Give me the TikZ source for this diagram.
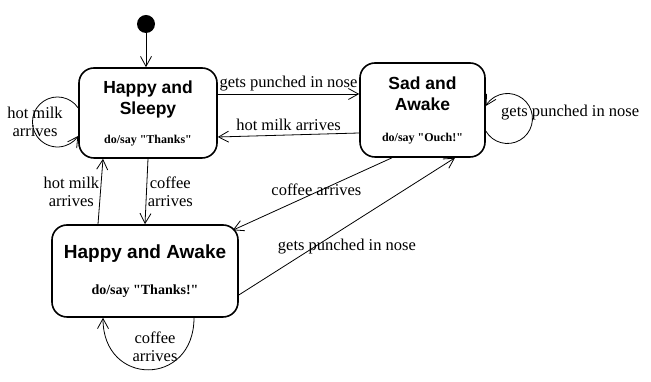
\documentclass[tikz,border=0pt]{standalone}
\usepackage{fontspec}
\setmainfont{Liberation Serif}
\newfontfamily\titlefont{Liberation Sans}
\usetikzlibrary{arrows.meta}

\tikzset{
  initial/.style={circle, fill=black, minimum size=18pt, inner sep=0pt},
  state/.style={draw, line width=1.6pt, rounded corners=15pt, align=center, inner sep=0pt},
  trans/.style={line width=0.8pt, -{Straight Barb[length=10pt,width=11pt]}},
  lbl/.style={font=\fontsize{16.5}{18}\selectfont, align=center, inner sep=1pt},
}
\newcommand{\stitle}[1]{{\titlefont\bfseries #1}}
\newcommand{\doline}[1]{{\bfseries #1}}
\newcommand{\qt}{\textquotedbl}

\begin{document}
\begin{tikzpicture}[x=1pt,y=1pt]
    \useasboundingbox (0,0) rectangle (651,382);

    % 状态
    \node[initial] (init) at (146,358) {};
    \node[state, minimum width=138pt, minimum height=90pt,
          font=\fontsize{17.5}{21}\selectfont] (hs) at (148,269)
        {\stitle{Happy and}\\\stitle{Sleepy}\\[8pt]{\fontsize{12}{14}\selectfont\doline{do/say \qt Thanks\qt}}};
    \node[state, minimum width=125pt, minimum height=94pt,
          font=\fontsize{17.5}{21}\selectfont] (sa) at (422.5,272)
        {\stitle{Sad and}\\\stitle{Awake}\\[10pt]{\fontsize{12}{14}\selectfont\doline{do/say \qt Ouch!\qt}}};
    \node[state, minimum width=186pt, minimum height=92pt,
          font=\fontsize{19}{22}\selectfont] (ha) at (145,111)
        {\stitle{Happy and Awake}\\[14pt]{\fontsize{14}{16}\selectfont\doline{do/say \qt Thanks!\qt}}};

    % 状态之间的转移
    \draw[trans] (init) -- (init |- hs.north);
    \draw[trans] ([yshift=19pt]hs.east) -- node[lbl, above, yshift=2pt] {gets punched in nose} ([yshift=16pt]sa.west);
    \draw[trans] ([yshift=-23pt]sa.west) -- node[lbl, above, yshift=3pt] {hot milk arrives} ([yshift=-24pt]hs.east);
    \draw[trans] ([xshift=-47pt]ha.north) -- node[lbl, left] {hot milk\\arrives} ([xshift=-45pt]hs.south);
    \draw[trans] (hs.south) -- node[lbl, right] {coffee\\arrives} (ha.north);
    \draw[trans] ([xshift=-30.5pt]sa.south) -- node[lbl, pos=0.5, xshift=4pt, yshift=4pt] {coffee arrives} ([xshift=-6pt,yshift=-6pt]ha.north east);
    \draw[trans] ([yshift=-24pt]ha.east) -- node[lbl, pos=0.5, yshift=-20pt] {gets punched in nose} ([xshift=32.5pt]sa.south);

    % 自环
    \draw[trans] ([yshift=5pt]hs.west) arc[start angle=34, end angle=326, radius=25pt];
    \node[lbl] (hsloop) at (35,260) {hot milk\\arrives};
    \draw[trans] ([yshift=-21pt]sa.east) arc[start angle=-150, end angle=150, radius=25pt];
    \node[lbl, anchor=west] (saloop) at (500,269) {gets punched in nose};
    \draw[trans] ([xshift=49pt]ha.south) to[out=-90, in=-90, looseness=1.95] ([xshift=-42pt]ha.south);
    \node[lbl] (haloop) at (155,35) {coffee\\arrives};
\end{tikzpicture}
\end{document}
